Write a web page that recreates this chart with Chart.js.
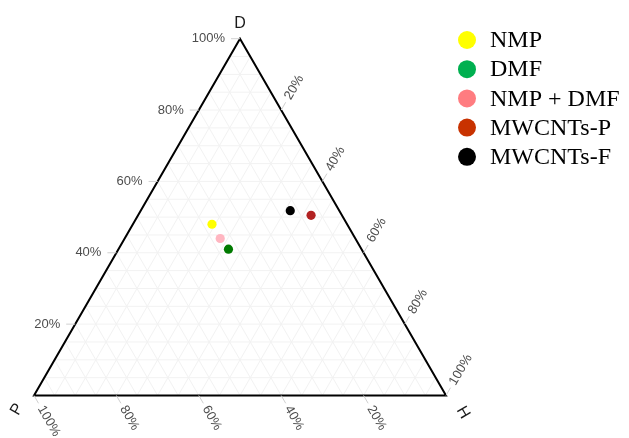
<!DOCTYPE html>
<html>
<head>
<meta charset="utf-8">
<title>Ternary plot</title>
<script src="https://cdn.jsdelivr.net/npm/chart.js@4.4.1/dist/chart.umd.min.js"></script>
<style>
    html, body { margin: 0; padding: 0; background: #ffffff; }
    #wrap { width: 629px; height: 438px; position: relative; }
</style>
</head>
<body>
<div id="wrap"><canvas id="ternChart"></canvas></div>
<script>
// Hansen parameter fractions (%), one entry per sample
const samples    = ['NMP', 'DMF', 'NMP + DMF', 'MWCNTs-P', 'MWCNTs-F'];
const dispersion = [48.0, 41.0, 44.0, 50.5, 51.8];   // D
const polar      = [32.8, 32.3, 32.8, 7.5, 11.9];    // P
const hbond      = [19.2, 26.7, 23.2, 42.0, 36.3];   // H

const pointColors  = ['#FFFF00', '#007A00', '#FFB6C1', '#B22222', '#000000'];
const legendColors = ['#FFFF00', '#00B050', '#FF7C80', '#C83200', '#000000'];

// tick labels along each side
const dTicks = [20, 40, 60, 80, 100];
const pTicks = [100, 80, 60, 40, 20];
const hTicks = [20, 40, 60, 80, 100];

const SQ3 = Math.sqrt(3) / 2;

// ternary (D, P, H) -> cartesian, P at (0,0), H at (1,0), D at top
function toXY(d, p, h) {
    const s = d + p + h;
    return { x: h / s + 0.5 * d / s, y: SQ3 * d / s };
}

const datasets = samples.map((name, i) => ({
    label: name,
    data: [toXY(dispersion[i], polar[i], hbond[i])],
    backgroundColor: pointColors[i],
    borderColor: pointColors[i],
    borderWidth: 0,
    pointRadius: 4.6,
    pointHoverRadius: 4.6
}));

// grid, frame, ticks and axis titles
const ternaryFrame = {
    id: 'ternaryFrame',
    beforeDraw(chart) {
        const ctx = chart.ctx;
        ctx.save();
        ctx.fillStyle = '#ffffff';
        ctx.fillRect(0, 0, chart.width, chart.height);
        ctx.restore();
    },
    beforeDatasetsDraw(chart) {
        const ctx = chart.ctx;
        const xs = chart.scales.x, ys = chart.scales.y;
        const px = (pt) => [xs.getPixelForValue(pt.x), ys.getPixelForValue(pt.y)];

        const line = (a, b) => {
            const p1 = px(a), p2 = px(b);
            ctx.beginPath();
            ctx.moveTo(p1[0], p1[1]);
            ctx.lineTo(p2[0], p2[1]);
            ctx.stroke();
        };

        ctx.save();
        // light grid every 5%
        ctx.strokeStyle = '#f2f2f2';
        ctx.lineWidth = 1;
        for (let k = 5; k < 100; k += 5) {
            const r = 100 - k;
            line(toXY(k, r, 0), toXY(k, 0, r));   // D const
            line(toXY(r, k, 0), toXY(0, k, r));   // P const
            line(toXY(r, 0, k), toXY(0, r, k));   // H const
        }

        // triangle outline
        const A = px(toXY(100, 0, 0)), B = px(toXY(0, 100, 0)), C = px(toXY(0, 0, 100));
        ctx.strokeStyle = '#000000';
        ctx.lineWidth = 2;
        ctx.lineJoin = 'miter';
        ctx.beginPath();
        ctx.moveTo(A[0], A[1]);
        ctx.lineTo(B[0], B[1]);
        ctx.lineTo(C[0], C[1]);
        ctx.closePath();
        ctx.stroke();

        ctx.font = '13px "Liberation Sans", Arial, sans-serif';
        ctx.fillStyle = '#4d4d4d';
        ctx.textBaseline = 'middle';
        const tickLen = 9;

        const tick = (pt, dx, dy, text, angle, align, gap) => {
            ctx.strokeStyle = '#d0d0d0';
            ctx.lineWidth = 1;
            ctx.beginPath();
            ctx.moveTo(pt[0], pt[1]);
            ctx.lineTo(pt[0] + dx * tickLen, pt[1] + dy * tickLen);
            ctx.stroke();
            ctx.save();
            ctx.translate(pt[0] + dx * gap, pt[1] + dy * gap);
            ctx.rotate(angle);
            ctx.textAlign = align;
            ctx.fillText(text, 0, 0);
            ctx.restore();
        };

        // D along the left side, horizontal labels
        dTicks.forEach(v => tick(px(toXY(v, 100 - v, 0)), -1, 0, v + '%', 0, 'right', 15));
        // P along the bottom, ticks down-right
        pTicks.forEach(v => tick(px(toXY(0, v, 100 - v)), 0.5, SQ3, v + '%', Math.PI / 3, 'left', 13));
        // H along the right side, ticks up-right
        hTicks.forEach(v => tick(px(toXY(100 - v, 0, v)), 0.5, -SQ3, v + '%', -Math.PI / 3, 'left', 13));

        // vertex titles
        ctx.font = '16px "Liberation Sans", Arial, sans-serif';
        ctx.fillStyle = '#1a1a1a';
        ctx.textAlign = 'center';
        ctx.textBaseline = 'alphabetic';
        ctx.fillText('D', A[0], A[1] - 11);

        ctx.textBaseline = 'middle';
        ctx.save();
        ctx.translate(B[0] - 17, B[1] + 14);
        ctx.rotate(-Math.PI / 3);
        ctx.fillText('P', 0, 0);
        ctx.restore();

        ctx.save();
        ctx.translate(C[0] + 17, C[1] + 17);
        ctx.rotate(Math.PI / 3);
        ctx.fillText('H', 0, 0);
        ctx.restore();
        ctx.restore();
    },
    afterDraw(chart) {
        // legend block at the upper right
        const ctx = chart.ctx;
        ctx.save();
        ctx.font = '24px "Liberation Serif", "Times New Roman", serif';
        ctx.textBaseline = 'middle';
        ctx.textAlign = 'left';
        samples.forEach((name, i) => {
            const cy = 40 + i * 29.2;
            ctx.fillStyle = legendColors[i];
            ctx.beginPath();
            ctx.arc(467, cy, 9, 0, Math.PI * 2);
            ctx.fill();
            ctx.fillStyle = '#000000';
            ctx.fillText(name, 490, cy + 1);
        });
        ctx.restore();
    }
};

// P vertex at pixel (34, 395.5), side length 412 px
const side = 412, ox = 34, oy = 395.5;

new Chart(document.getElementById('ternChart'), {
    type: 'scatter',
    data: { datasets: datasets },
    options: {
        responsive: true,
        maintainAspectRatio: false,
        animation: false,
        layout: { padding: 0, autoPadding: false },
        plugins: {
            legend: { display: false },
            tooltip: { enabled: false }
        },
        scales: {
            x: { display: false, min: -ox / side, max: (629 - ox) / side },
            y: { display: false, min: -(438 - oy) / side, max: oy / side }
        }
    },
    plugins: [ternaryFrame]
});
</script>
</body>
</html>
